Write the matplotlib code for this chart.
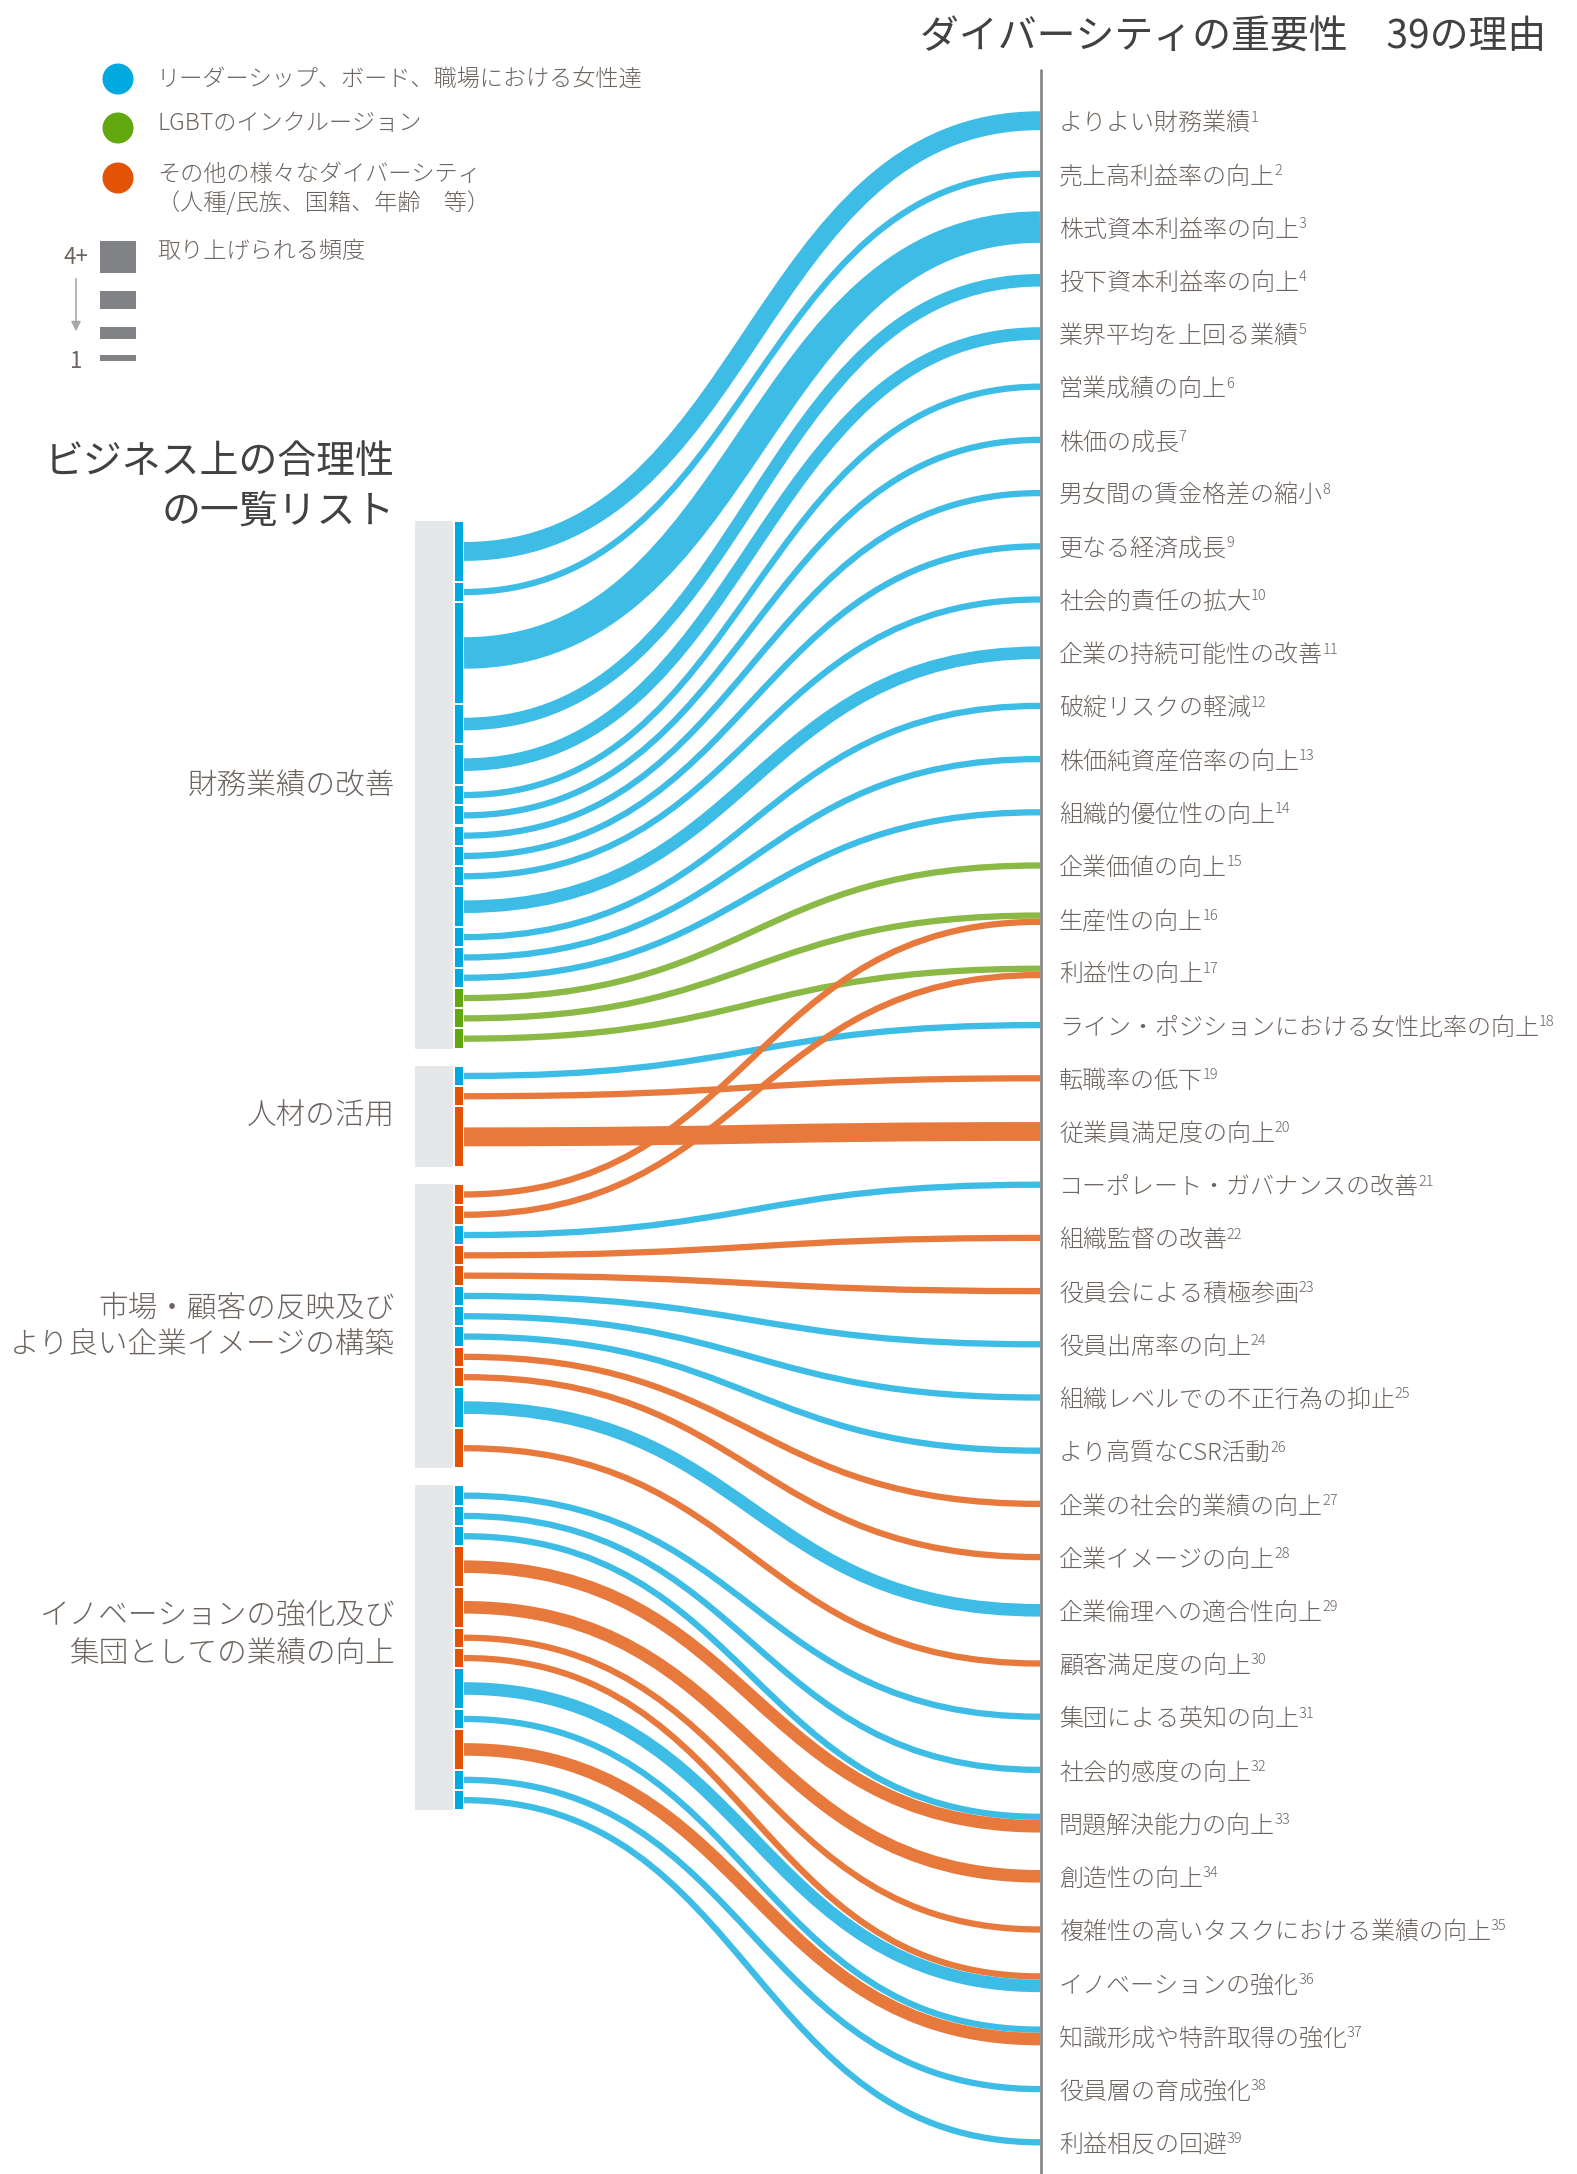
import matplotlib
matplotlib.use("Agg")
import matplotlib.pyplot as plt
from matplotlib.path import Path
from matplotlib.patches import PathPatch, Rectangle, Circle

plt.rcParams['font.family'] = ['Noto Sans CJK JP', 'DejaVu Sans']

# ---------------- data ----------------
title_right = "ダイバーシティの重要性　39の理由"
title_left = "ビジネス上の合理性\nの一覧リスト"

reasons = [
    "よりよい財務業績", "売上高利益率の向上", "株式資本利益率の向上", "投下資本利益率の向上",
    "業界平均を上回る業績", "営業成績の向上", "株価の成長", "男女間の賃金格差の縮小",
    "更なる経済成長", "社会的責任の拡大", "企業の持続可能性の改善", "破綻リスクの軽減",
    "株価純資産倍率の向上", "組織的優位性の向上", "企業価値の向上", "生産性の向上",
    "利益性の向上", "ライン・ポジションにおける女性比率の向上", "転職率の低下",
    "従業員満足度の向上", "コーポレート・ガバナンスの改善", "組織監督の改善",
    "役員会による積極参画", "役員出席率の向上", "組織レベルでの不正行為の抑止",
    "より高質なCSR活動", "企業の社会的業績の向上", "企業イメージの向上",
    "企業倫理への適合性向上", "顧客満足度の向上", "集団による英知の向上",
    "社会的感度の向上", "問題解決能力の向上", "創造性の向上",
    "複雑性の高いタスクにおける業績の向上", "イノベーションの強化",
    "知識形成や特許取得の強化", "役員層の育成強化", "利益相反の回避",
]

groups = [
    "財務業績の改善",
    "人材の活用",
    "市場・顧客の反映及び\nより良い企業イメージの構築",
    "イノベーションの強化及び\n集団としての業績の向上",
]

legend_labels = [
    "リーダーシップ、ボード、職場における女性達",
    "LGBTのインクルージョン",
    "その他の様々なダイバーシティ\n（人種/民族、国籍、年齢　等）",
]
legend_types = ["W", "L", "O"]
freq_title = "取り上げられる頻度"
freq_levels = [4, 3, 2, 1]          # 4 means "4+"
freq_tick_labels = ["4+", "1"]

# group 1: 財務業績の改善
g1_targets = [1, 2, 3, 4, 5, 6, 7, 8, 9, 10, 11, 12, 13, 14, 15, 16, 17]
g1_types = ["W", "W", "W", "W", "W", "W", "W", "W", "W", "W", "W", "W", "W", "W", "L", "L", "L"]
g1_freq = [3, 1, 4, 2, 2, 1, 1, 1, 1, 1, 2, 1, 1, 1, 1, 1, 1]
g1_bar = [3, 1, 4, 2, 2, 1, 1, 1, 1, 1, 2, 1, 1, 1, 1, 1, 1]

# group 2: 人材の活用
g2_targets = [18, 19, 20]
g2_types = ["W", "O", "O"]
g2_freq = [1, 1, 3]
g2_bar = [1, 1, 3]

# group 3: 市場・顧客の反映及びより良い企業イメージの構築
g3_targets = [16, 17, 21, 22, 23, 24, 25, 26, 27, 28, 29, 30]
g3_types = ["O", "O", "W", "O", "O", "W", "W", "W", "O", "O", "W", "O"]
g3_freq = [1, 1, 1, 1, 1, 1, 1, 1, 1, 1, 2, 1]
g3_bar = [1, 1, 1, 1, 1, 1, 1, 1, 1, 1, 2, 2]

# group 4: イノベーションの強化及び集団としての業績の向上
g4_targets = [31, 32, 33, 33, 34, 35, 36, 36, 37, 37, 38, 39]
g4_types = ["W", "W", "W", "O", "O", "O", "O", "W", "W", "O", "W", "W"]
g4_freq = [1, 1, 1, 2, 2, 1, 1, 2, 1, 2, 1, 1]
g4_bar = [1, 1, 1, 2, 2, 1, 1, 2, 1, 2, 1, 1]

# ---------------- styles / layout ----------------
W, H, DPI = 1577, 2174, 100
PT = 72.0 / DPI
bar_col = {"W": "#00a9e0", "L": "#62a70e", "O": "#e35205"}
flow_col = {"W": "#3dbce6", "L": "#8aba45", "O": "#e8793d"}
text_col = "#6d6460"
dark_col = "#414042"
units = {1: 1, 2: 2, 3: 3, 4: 5}
FLOW_UNIT = 6.3
BAR_UNIT = 20.3
BAR_GAP = 2.0
GROUP_GAP = 17.0
TOP = 522.0
GRAY_X0, GRAY_X1 = 415, 453
BAR_X0, BAR_X1 = 455, 463
FX0, FX1 = 464, 1040
LINE_X = 1041
LAB_X = 1059
LAB_Y0, LAB_DY = 120.7, 53.2
group_label_dy = [2, 0, 0, -13]

fig = plt.figure(figsize=(W / DPI, H / DPI), dpi=DPI)
ax = fig.add_axes([0, 0, 1, 1])
ax.set_xlim(0, W)
ax.set_ylim(H, 0)
ax.axis("off")

group_data = [
    (g1_targets, g1_types, g1_freq, g1_bar),
    (g2_targets, g2_types, g2_freq, g2_bar),
    (g3_targets, g3_types, g3_freq, g3_bar),
    (g4_targets, g4_types, g4_freq, g4_bar),
]

# left side bars
flows = []
y = TOP
for gi, (tg, tp, fq, br) in enumerate(group_data):
    gtop = y
    for t, c, f, b in zip(tg, tp, fq, br):
        h = units[b] * BAR_UNIT - BAR_GAP
        ax.add_patch(Rectangle((BAR_X0, y), BAR_X1 - BAR_X0, h, color=bar_col[c], lw=0, zorder=3))
        flows.append(dict(t=t, c=c, w=units[f] * FLOW_UNIT, y0=y + h / 2))
        y += units[b] * BAR_UNIT
    gbot = y - BAR_GAP
    ax.add_patch(Rectangle((GRAY_X0, gtop - 1), GRAY_X1 - GRAY_X0, gbot - gtop + 2,
                           color="#e6e7e8", lw=0, zorder=2))
    ax.text(395, (gtop + gbot) / 2 + group_label_dy[gi], groups[gi], ha="right", va="center",
            fontsize=21.3, color=text_col, linespacing=1.28, fontweight="light")
    y += GROUP_GAP

# right side stacking
lab_y = {i + 1: LAB_Y0 + i * LAB_DY for i in range(len(reasons))}
stack = {}
for f in flows:
    stack.setdefault(f["t"], []).append(f)
for t, lst in stack.items():
    tot = sum(f["w"] for f in lst)
    cur = lab_y[t] - tot / 2
    for f in lst:
        f["y1"] = cur + f["w"] / 2
        cur += f["w"]

xm = (FX0 + FX1) / 2
for f in flows:
    verts = [(FX0, f["y0"]), (xm, f["y0"]), (xm, f["y1"]), (FX1, f["y1"])]
    p = Path(verts, [Path.MOVETO, Path.CURVE4, Path.CURVE4, Path.CURVE4])
    ax.add_patch(PathPatch(p, fill=False, edgecolor=flow_col[f["c"]],
                           lw=f["w"] * PT, capstyle="butt", zorder=4))

# right axis line
ax.plot([LINE_X, LINE_X], [69, H], color="#808285", lw=2.6 * PT, zorder=5,
        solid_capstyle="butt")

# reason labels
for i, r in enumerate(reasons):
    t = ax.text(LAB_X, lab_y[i + 1] + 3, r, ha="left", va="center", fontsize=17.3,
                color=text_col, fontweight="light")
    ax.annotate(str(i + 1), xy=(1, 1), xycoords=t, xytext=(-0.5, 0.5),
                textcoords="offset points", ha="left", va="top", fontsize=10.5,
                color=text_col, fontweight="light")

# titles
ax.text(1546, 38, title_right, ha="right", va="center", fontsize=28, color=dark_col)
ax.text(395, 487, title_left, ha="right", va="center", fontsize=28, color=dark_col,
        linespacing=1.3)

# legend
leg_y = [79, 128, 178]
txt_y = [80, 124, 189]
for c, ly, tyy, lab in zip(legend_types, leg_y, txt_y, legend_labels):
    ax.add_patch(Circle((118, ly), 15.5, color=bar_col[c], lw=0))
    ax.text(157, tyy, lab, ha="left", va="center", fontsize=16.7, color=text_col,
            linespacing=1.25, fontweight="light")

box_y = [257, 300, 333, 358]
for lv, by in zip(freq_levels, box_y):
    h = units[lv] * FLOW_UNIT
    ax.add_patch(Rectangle((100, by - h / 2), 36, h, color="#808285", lw=0))
ax.text(157, 252, freq_title, ha="left", va="center", fontsize=16.7, color=text_col,
        fontweight="light")
ax.text(76, box_y[0], freq_tick_labels[0], ha="center", va="center", fontsize=16, color=text_col)
ax.text(76, 361, freq_tick_labels[1], ha="center", va="center", fontsize=16, color=text_col)
ax.annotate("", xy=(76, 334), xytext=(76, 276),
            arrowprops=dict(arrowstyle="-|>", color="#a7a9ac", lw=1.2, mutation_scale=14))

fig.savefig("out.png", dpi=DPI)
